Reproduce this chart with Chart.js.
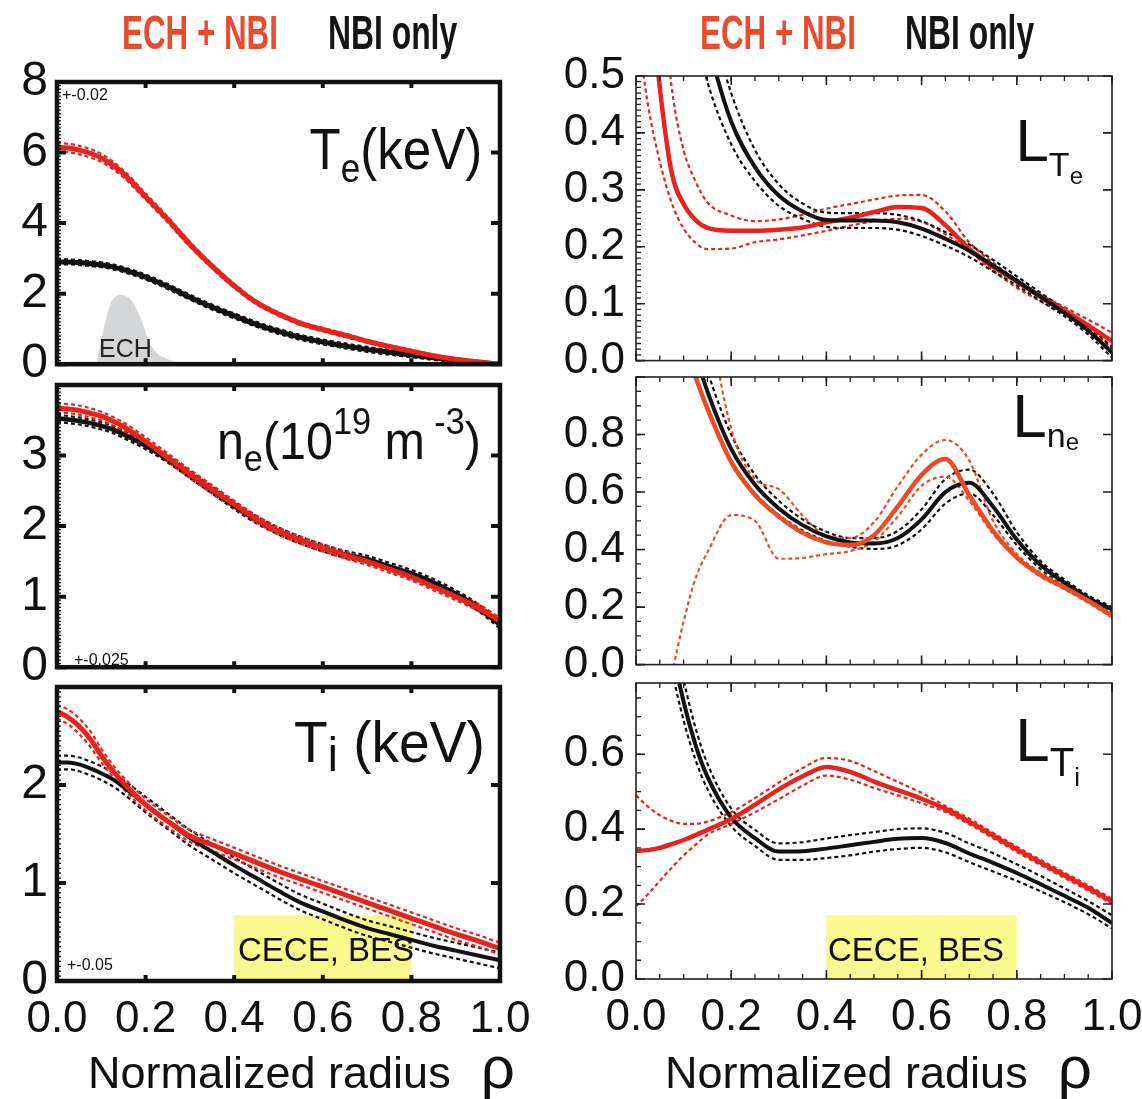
<!DOCTYPE html>
<html>
<head>
<meta charset="utf-8">
<script src="https://cdn.jsdelivr.net/npm/chart.js@4.4.1/dist/chart.umd.min.js"></script>
<style>
  body { margin: 0; background: #fff; }
  #fig { position: relative; width: 1142px; height: 1099px; overflow: hidden;
         font-family: 'Liberation Sans', Arial, sans-serif; color: #111; }
  #fig canvas { position: absolute; }
  .lbl { position: absolute; white-space: nowrap; line-height: 1; }
  .lbl span { position: relative; line-height: 0; }
  .head { font-weight: bold; }
</style>
</head>
<body>
<div id="fig"></div>
<script>
// radial grid shared by every profile (denser near the axis)
const RHO = [0, 0.025, 0.05, 0.075, 0.1, 0.125, 0.15, 0.2, 0.25, 0.3, 0.35, 0.4, 0.45, 0.5,
             0.55, 0.6, 0.65, 0.7, 0.75, 0.8, 0.85, 0.9, 0.95, 1.0];

// Te (keV)
const TE_ECH    = [6.15, 6.13, 6.07, 5.98, 5.85, 5.65, 5.4, 4.75, 4.1, 3.4, 2.78, 2.22, 1.75, 1.42, 1.16, 0.98, 0.82, 0.65, 0.5, 0.37, 0.24, 0.14, 0.07, 0.0];
const TE_ECH_HI = [6.27, 6.25, 6.19, 6.1, 5.96, 5.76, 5.5, 4.84, 4.18, 3.47, 2.84, 2.28, 1.8, 1.47, 1.21, 1.03, 0.87, 0.69, 0.54, 0.41, 0.27, 0.17, 0.09, 0.02];
const TE_ECH_LO = [6.03, 6.01, 5.95, 5.86, 5.74, 5.54, 5.3, 4.66, 4.02, 3.33, 2.72, 2.16, 1.7, 1.37, 1.11, 0.93, 0.77, 0.61, 0.46, 0.33, 0.21, 0.11, 0.05, -0.02];
const TE_NBI    = [2.9, 2.9, 2.88, 2.85, 2.82, 2.76, 2.68, 2.47, 2.2, 1.9, 1.62, 1.37, 1.13, 0.93, 0.76, 0.63, 0.52, 0.42, 0.34, 0.26, 0.18, 0.11, 0.05, 0.0];
const TE_NBI_HI = [2.97, 2.97, 2.95, 2.92, 2.89, 2.83, 2.75, 2.54, 2.27, 1.97, 1.69, 1.44, 1.2, 1.0, 0.83, 0.7, 0.59, 0.49, 0.41, 0.32, 0.24, 0.16, 0.09, 0.03];
const TE_NBI_LO = [2.83, 2.83, 2.81, 2.78, 2.75, 2.69, 2.61, 2.4, 2.13, 1.83, 1.55, 1.3, 1.06, 0.86, 0.69, 0.56, 0.45, 0.35, 0.27, 0.2, 0.12, 0.06, 0.01, -0.03];

// ECH deposition profile (arbitrary units on the Te axis)
const ECH_RHO = [0.088, 0.1, 0.11, 0.124, 0.146, 0.169, 0.191, 0.206, 0.221, 0.243, 0.273, 0.3];
const ECH_PWR = [0, 0.7, 1.25, 1.79, 1.96, 1.79, 1.24, 0.69, 0.37, 0.18, 0.05, 0];

// ne (1e19 m^-3)
const NE_ECH    = [3.67, 3.66, 3.64, 3.6, 3.56, 3.49, 3.41, 3.2, 2.97, 2.74, 2.52, 2.31, 2.1, 1.93, 1.8, 1.69, 1.59, 1.5, 1.39, 1.28, 1.14, 1.0, 0.85, 0.65];
const NE_ECH_HI = [3.74, 3.73, 3.71, 3.67, 3.62, 3.55, 3.47, 3.26, 3.03, 2.8, 2.58, 2.36, 2.15, 1.98, 1.85, 1.74, 1.64, 1.55, 1.44, 1.33, 1.19, 1.05, 0.9, 0.7];
const NE_ECH_LO = [3.61, 3.6, 3.58, 3.54, 3.5, 3.43, 3.35, 3.14, 2.91, 2.68, 2.46, 2.26, 2.05, 1.88, 1.75, 1.64, 1.54, 1.45, 1.34, 1.23, 1.09, 0.95, 0.8, 0.6];
const NE_NBI    = [3.53, 3.51, 3.49, 3.46, 3.42, 3.37, 3.3, 3.14, 2.95, 2.73, 2.51, 2.29, 2.09, 1.93, 1.8, 1.69, 1.6, 1.53, 1.43, 1.33, 1.2, 1.04, 0.85, 0.6];
const NE_NBI_HI = [3.58, 3.56, 3.54, 3.51, 3.47, 3.42, 3.35, 3.19, 3.0, 2.78, 2.56, 2.34, 2.14, 1.98, 1.85, 1.74, 1.65, 1.58, 1.48, 1.38, 1.25, 1.09, 0.9, 0.65];
const NE_NBI_LO = [3.48, 3.46, 3.44, 3.41, 3.37, 3.32, 3.25, 3.09, 2.9, 2.68, 2.46, 2.24, 2.04, 1.88, 1.75, 1.64, 1.55, 1.48, 1.38, 1.28, 1.15, 0.99, 0.8, 0.55];

// Ti (keV)
const TI_ECH    = [2.75, 2.69, 2.6, 2.47, 2.3, 2.15, 2.02, 1.8, 1.63, 1.48, 1.39, 1.3, 1.21, 1.12, 1.04, 0.96, 0.88, 0.8, 0.72, 0.64, 0.56, 0.48, 0.41, 0.33];
const TI_ECH_HI = [2.82, 2.77, 2.68, 2.55, 2.37, 2.21, 2.08, 1.86, 1.69, 1.54, 1.45, 1.36, 1.27, 1.18, 1.1, 1.02, 0.94, 0.86, 0.78, 0.7, 0.62, 0.54, 0.47, 0.39];
const TI_ECH_LO = [2.68, 2.62, 2.52, 2.39, 2.23, 2.09, 1.96, 1.74, 1.57, 1.42, 1.33, 1.24, 1.15, 1.06, 0.98, 0.9, 0.82, 0.74, 0.66, 0.58, 0.5, 0.42, 0.35, 0.27];
const TI_NBI    = [2.23, 2.23, 2.21, 2.17, 2.12, 2.06, 1.98, 1.8, 1.63, 1.46, 1.32, 1.18, 1.05, 0.92, 0.8, 0.71, 0.62, 0.54, 0.48, 0.42, 0.36, 0.31, 0.26, 0.21];
const TI_NBI_HI = [2.3, 2.3, 2.28, 2.24, 2.19, 2.13, 2.05, 1.88, 1.71, 1.54, 1.4, 1.26, 1.13, 1.0, 0.88, 0.79, 0.7, 0.62, 0.56, 0.5, 0.44, 0.39, 0.34, 0.29];
const TI_NBI_LO = [2.16, 2.16, 2.14, 2.1, 2.05, 1.99, 1.91, 1.72, 1.55, 1.38, 1.24, 1.1, 0.97, 0.84, 0.72, 0.63, 0.54, 0.46, 0.4, 0.34, 0.28, 0.23, 0.18, 0.13];

// L_Te
const LTE_ECH    = [0.95, 0.7, 0.48, 0.33, 0.275, 0.247, 0.233, 0.228, 0.228, 0.23, 0.234, 0.243, 0.251, 0.261, 0.27, 0.268, 0.238, 0.196, 0.165, 0.139, 0.112, 0.088, 0.062, 0.034];
const LTE_ECH_HI = [1.2, 0.95, 0.7, 0.48, 0.37, 0.315, 0.278, 0.255, 0.245, 0.248, 0.256, 0.267, 0.275, 0.283, 0.29, 0.291, 0.262, 0.208, 0.172, 0.143, 0.116, 0.094, 0.072, 0.049];
const LTE_ECH_LO = [0.6, 0.45, 0.35, 0.277, 0.232, 0.207, 0.196, 0.197, 0.208, 0.213, 0.22, 0.228, 0.237, 0.245, 0.249, 0.244, 0.222, 0.192, 0.158, 0.128, 0.104, 0.082, 0.058, 0.02];
const LTE_NBI    = [1.5, 1.25, 1.05, 0.9, 0.78, 0.65, 0.56, 0.42, 0.34, 0.29, 0.262, 0.247, 0.246, 0.246, 0.243, 0.232, 0.214, 0.193, 0.167, 0.14, 0.112, 0.084, 0.053, 0.014];
const LTE_NBI_HI = [1.6, 1.35, 1.15, 0.99, 0.85, 0.72, 0.62, 0.47, 0.37, 0.31, 0.276, 0.26, 0.259, 0.259, 0.256, 0.245, 0.226, 0.204, 0.177, 0.148, 0.119, 0.09, 0.06, 0.024];
const LTE_NBI_LO = [1.4, 1.16, 0.96, 0.82, 0.69, 0.58, 0.49, 0.38, 0.315, 0.272, 0.249, 0.235, 0.233, 0.233, 0.23, 0.219, 0.202, 0.182, 0.157, 0.132, 0.105, 0.078, 0.046, 0.005];

// L_ne
const LNE_ECH    = [2.0, 1.75, 1.5, 1.3, 1.12, 1.0, 0.89, 0.705, 0.59, 0.515, 0.458, 0.425, 0.416, 0.45, 0.55, 0.66, 0.715, 0.59, 0.465, 0.372, 0.312, 0.268, 0.222, 0.17];
const LNE_ECH_HI = [3.0, 2.7, 2.4, 2.1, 1.8, 1.55, 1.25, 0.82, 0.645, 0.61, 0.518, 0.448, 0.44, 0.495, 0.62, 0.73, 0.781, 0.71, 0.5, 0.385, 0.32, 0.275, 0.228, 0.178];
const LNE_ECH_LO = [-0.4, -0.28, -0.16, -0.03, 0.15, 0.3, 0.39, 0.52, 0.5, 0.368, 0.371, 0.384, 0.395, 0.428, 0.515, 0.622, 0.654, 0.57, 0.455, 0.37, 0.305, 0.262, 0.215, 0.164];
const LNE_NBI    = [2.1, 1.85, 1.6, 1.4, 1.22, 1.08, 0.95, 0.75, 0.625, 0.543, 0.485, 0.446, 0.425, 0.421, 0.44, 0.505, 0.6, 0.632, 0.55, 0.435, 0.346, 0.285, 0.232, 0.192];
const LNE_NBI_HI = [2.2, 1.95, 1.7, 1.5, 1.31, 1.16, 1.02, 0.8, 0.66, 0.57, 0.505, 0.462, 0.44, 0.44, 0.465, 0.54, 0.645, 0.678, 0.595, 0.46, 0.36, 0.296, 0.241, 0.2];
const LNE_NBI_LO = [2.0, 1.75, 1.52, 1.32, 1.15, 1.01, 0.89, 0.71, 0.595, 0.52, 0.466, 0.43, 0.41, 0.402, 0.415, 0.47, 0.56, 0.595, 0.52, 0.415, 0.332, 0.274, 0.223, 0.184];

// L_Ti
const LTI_ECH    = [0.342, 0.344, 0.35, 0.36, 0.371, 0.384, 0.398, 0.427, 0.465, 0.506, 0.541, 0.566, 0.553, 0.527, 0.504, 0.481, 0.454, 0.42, 0.383, 0.346, 0.311, 0.277, 0.243, 0.207];
const LTI_ECH_HI = [0.49, 0.46, 0.437, 0.422, 0.414, 0.414, 0.42, 0.445, 0.483, 0.524, 0.563, 0.59, 0.582, 0.555, 0.526, 0.497, 0.462, 0.428, 0.39, 0.353, 0.318, 0.284, 0.25, 0.214];
const LTI_ECH_LO = [0.194, 0.226, 0.262, 0.297, 0.33, 0.358, 0.385, 0.414, 0.445, 0.48, 0.516, 0.543, 0.532, 0.51, 0.49, 0.469, 0.446, 0.413, 0.376, 0.339, 0.304, 0.27, 0.236, 0.2];
const LTI_NBI    = [1.6, 1.35, 1.1, 0.89, 0.74, 0.625, 0.54, 0.431, 0.376, 0.34, 0.341, 0.348, 0.357, 0.366, 0.374, 0.376, 0.363, 0.335, 0.31, 0.283, 0.253, 0.222, 0.19, 0.149];
const LTI_NBI_HI = [1.7, 1.45, 1.2, 0.97, 0.8, 0.67, 0.575, 0.455, 0.398, 0.362, 0.365, 0.375, 0.384, 0.392, 0.4, 0.402, 0.39, 0.362, 0.336, 0.306, 0.275, 0.242, 0.208, 0.17];
const LTI_NBI_LO = [1.5, 1.26, 1.02, 0.83, 0.69, 0.585, 0.507, 0.408, 0.355, 0.318, 0.318, 0.323, 0.33, 0.34, 0.347, 0.35, 0.338, 0.312, 0.287, 0.262, 0.234, 0.205, 0.173, 0.135];

const RED = '#e8231e';
const ORANGE = '#ee4a28';
const BLACK = '#111111';
const fig = document.getElementById('fig');

function pts(xs, ys) { return xs.map((x, i) => ({ x: x, y: ys[i] })); }
function solid(ys, color, w) {
  return { data: pts(RHO, ys), borderColor: color, borderWidth: w, pointRadius: 0,
           fill: false, cubicInterpolationMode: 'monotone' };
}
function dotted(ys, color) {
  return Object.assign(solid(ys, color, 2.2), { borderDash: [4, 3] });
}

// frame, inward tick marks and the diagnostic band
const frameTicks = {
  id: 'frameTicks',
  beforeDatasetsDraw(chart, args, o) {
    if (!o.band) return;
    const { ctx, chartArea: a, scales: { x, y } } = chart;
    const x0 = x.getPixelForValue(o.band[0]), x1 = x.getPixelForValue(o.band[1]);
    const y1 = y.getPixelForValue(o.band[2]);
    ctx.save();
    ctx.fillStyle = '#fbf88d';
    ctx.fillRect(x0, y1, x1 - x0, a.bottom - y1);
    ctx.restore();
  },
  afterDatasetsDraw(chart, args, o) {
    const { ctx, chartArea: a, scales: { x, y } } = chart;
    const each = (s, step, cb) => {
      const n = Math.round((s.max - s.min) / step);
      for (let i = 0; i <= n; i++) {
        const v = s.min + i * step;
        if (v > s.max + 1e-9) break;
        cb(s.getPixelForValue(v));
      }
    };
    ctx.save();
    ctx.strokeStyle = o.color;
    ctx.lineCap = 'butt';
    ctx.beginPath();
    ctx.lineWidth = o.minorW;
    if (o.xMinor) each(x, o.xMinor, px => {
      ctx.moveTo(px, a.top); ctx.lineTo(px, a.top + o.minorLen);
      ctx.moveTo(px, a.bottom); ctx.lineTo(px, a.bottom - o.minorLen);
    });
    each(y, o.yMinor, py => {
      ctx.moveTo(a.left, py); ctx.lineTo(a.left + o.minorLen, py);
    });
    ctx.stroke();
    ctx.beginPath();
    ctx.lineWidth = o.majorW;
    each(x, 0.2, px => {
      ctx.moveTo(px, a.top); ctx.lineTo(px, a.top + o.xMajorLen);
      ctx.moveTo(px, a.bottom); ctx.lineTo(px, a.bottom - o.xMajorLen);
    });
    each(y, o.yMajor, py => {
      ctx.moveTo(a.left, py); ctx.lineTo(a.left + o.majorLen, py);
      ctx.moveTo(a.right, py); ctx.lineTo(a.right - o.majorLen, py);
    });
    ctx.stroke();
    ctx.lineWidth = o.frameW;
    ctx.strokeRect(a.left, a.top, a.right - a.left, a.bottom - a.top);
    ctx.restore();
  }
};

function panel(p) {
  const left = p.col === 'L' ? 0 : 556;
  const width = p.col === 'L' ? 545 : 620;
  const yw = p.col === 'L' ? 57 : 80;
  const right = p.col === 'L' ? 500 : 1112;
  const top = p.frame[0] - 40;
  const xh = p.bottom ? 60 : 0;
  const height = p.frame[1] - top + (p.bottom ? xh + 8 : 30);
  const cv = document.createElement('canvas');
  cv.width = width; cv.height = height;
  cv.style.left = left + 'px'; cv.style.top = top + 'px';
  fig.appendChild(cv);
  const thick = p.col === 'L';
  new Chart(cv, {
    type: 'line',
    data: { datasets: p.datasets },
    options: {
      responsive: false, animation: false, devicePixelRatio: 1,
      events: [],
      layout: { autoPadding: false,
                padding: { top: 40, left: 0, right: left + width - right,
                           bottom: height - (p.frame[1] - top) - xh } },
      plugins: {
        legend: { display: false }, tooltip: { enabled: false },
        frameTicks: {
          color: thick ? '#111' : '#222', frameW: thick ? 4.5 : 1.6,
          majorW: thick ? 4 : 1.6, minorW: 1.3,
          xMajorLen: thick ? 6 : 9, majorLen: 9, minorLen: thick ? 4 : 5,
          xMinor: thick ? 0 : 0.05, yMajor: p.yStep, yMinor: p.yMinor, band: p.band
        }
      },
      scales: {
        x: {
          type: 'linear', min: 0, max: 1, display: !!p.bottom,
          grid: { display: false, drawTicks: false }, border: { display: false },
          ticks: { stepSize: 0.2, padding: 12, maxRotation: 0, autoSkip: false, color: '#111',
                   font: { family: "'Liberation Sans'", size: 44 },
                   callback: v => v.toFixed(1) },
          afterFit: s => { s.height = xh; }
        },
        y: {
          type: 'linear', min: p.yMin, max: p.yMax,
          grid: { display: false, drawTicks: false }, border: { display: false },
          ticks: { stepSize: p.yStep, padding: thick ? 9 : 11, includeBounds: false, color: '#111',
                   font: { family: "'Liberation Sans'", size: thick ? 48 : 44 },
                   callback: p.fmt },
          afterFit: s => { s.width = yw; }
        }
      }
    },
    plugins: [frameTicks]
  });
}

const intLabel = hide => v => (Math.abs(v - hide) < 1e-6 ? '' : String(Math.round(v)));
const decLabel = hide => v => (Math.abs(v - hide) < 1e-6 ? '' : v.toFixed(1));

panel({ col: 'L', frame: [82, 372], yMin: 0, yMax: 8, yStep: 2, yMinor: 0.1, fmt: intLabel(99),
  datasets: [
    solid(TE_ECH, RED, 5), dotted(TE_ECH_HI, RED), dotted(TE_ECH_LO, RED),
    solid(TE_NBI, BLACK, 5), dotted(TE_NBI_HI, BLACK), dotted(TE_NBI_LO, BLACK),
    { data: pts(ECH_RHO, ECH_PWR), borderWidth: 0, pointRadius: 0, fill: 'origin',
      backgroundColor: '#d3d5d6', cubicInterpolationMode: 'monotone' }
  ] });

panel({ col: 'L', frame: [385, 675], yMin: 0, yMax: 4, yStep: 1, yMinor: 0.05, fmt: intLabel(4),
  datasets: [
    solid(NE_ECH, RED, 5), solid(NE_NBI, BLACK, 4.5),
    dotted(NE_ECH_HI, RED), dotted(NE_ECH_LO, RED),
    dotted(NE_NBI_HI, BLACK), dotted(NE_NBI_LO, BLACK)
  ] });

panel({ col: 'L', frame: [687, 981], yMin: 0, yMax: 3, yStep: 1, yMinor: 0.05, fmt: intLabel(3),
  bottom: true, band: [0.4, 0.8, 0.67],
  datasets: [
    solid(TI_ECH, RED, 5), solid(TI_NBI, BLACK, 4),
    dotted(TI_ECH_HI, RED), dotted(TI_ECH_LO, RED),
    dotted(TI_NBI_HI, BLACK), dotted(TI_NBI_LO, BLACK)
  ] });

panel({ col: 'R', frame: [76, 368], yMin: 0, yMax: 0.5, yStep: 0.1, yMinor: 0.01, fmt: decLabel(99),
  datasets: [
    solid(LTE_NBI, BLACK, 4), solid(LTE_ECH, RED, 4.5),
    dotted(LTE_NBI_HI, BLACK), dotted(LTE_NBI_LO, BLACK),
    dotted(LTE_ECH_HI, RED), dotted(LTE_ECH_LO, RED)
  ] });

panel({ col: 'R', frame: [377, 672], yMin: 0, yMax: 1.0, yStep: 0.2, yMinor: 0.05, fmt: decLabel(1.0),
  datasets: [
    solid(LNE_ECH, ORANGE, 4.5), solid(LNE_NBI, BLACK, 4),
    dotted(LNE_ECH_HI, ORANGE), dotted(LNE_ECH_LO, ORANGE),
    dotted(LNE_NBI_HI, BLACK), dotted(LNE_NBI_LO, BLACK)
  ] });

panel({ col: 'R', frame: [683, 979], yMin: 0, yMax: 0.79, yStep: 0.2, yMinor: 0.05, fmt: decLabel(99),
  bottom: true, band: [0.4, 0.8, 0.17],
  datasets: [
    solid(LTI_ECH, RED, 4.5), solid(LTI_NBI, BLACK, 4),
    dotted(LTI_ECH_HI, RED), dotted(LTI_ECH_LO, RED),
    dotted(LTI_NBI_HI, BLACK), dotted(LTI_NBI_LO, BLACK)
  ] });

// text overlays
function label(html, o) {
  const d = document.createElement('div');
  d.className = 'lbl' + (o.cls ? ' ' + o.cls : '');
  d.innerHTML = html;
  d.style.fontSize = o.size + 'px';
  d.style.top = (o.base - 0.847 * o.size) + 'px';
  if (o.right !== undefined) {
    d.style.right = (1142 - o.right) + 'px';
    d.style.transformOrigin = '100% 0';
  } else {
    d.style.left = o.left + 'px';
    d.style.transformOrigin = '0 0';
  }
  if (o.color) d.style.color = o.color;
  if (o.sx) d.style.transform = 'scaleX(' + o.sx + ')';
  fig.appendChild(d);
}
const sh = (t, size, dy) => '<span style="font-size:' + size + 'px;top:' + dy + 'px">' + t + '</span>';

[122, 700].forEach(x => label('ECH + NBI', { left: x, base: 50, size: 49, cls: 'head', color: '#ea4a2d', sx: 0.64 }));
[328, 905].forEach(x => label('NBI only', { left: x, base: 50, size: 49, cls: 'head', color: '#151515', sx: 0.65 }));

label('T' + sh('e', 40, 13) + '(keV)', { right: 482, base: 169, size: 58, sx: 0.88 });
label('n' + sh('e', 36, 12) + '(10' + sh('19', 36, -25) + ' m' + sh(' -3', 36, -25) + ')', { right: 481, base: 459, size: 51, sx: 0.95 });
label('T' + sh('i', 48, 9) + ' (keV)', { right: 485, base: 762, size: 58, sx: 0.95 });
label('L' + sh('T', 34, 15) + sh('e', 24, 23), { right: 1083, base: 162, size: 60 });
label('L' + sh('n', 34, 10) + sh('e', 24, 13), { right: 1079, base: 438, size: 62 });
label('L' + sh('T', 40, 15) + sh('i', 26, 25), { right: 1080, base: 762, size: 62 });

label('+-0.02', { left: 62, base: 101, size: 16 });
label('+-0.025', { left: 74, base: 666, size: 16 });
label('+-0.05', { left: 67, base: 971, size: 16 });
label('ECH', { left: 99, base: 357, size: 25, color: '#222' });
label('CECE, BES', { left: 238, base: 961, size: 33 });
label('CECE, BES', { left: 828, base: 961, size: 33 });

[88, 665].forEach(x => label('Normalized radius' + '<span style="font-size:60px;margin-left:30px">ρ</span>',
  { left: x, base: 1088, size: 45 }));
</script>
</body>
</html>
